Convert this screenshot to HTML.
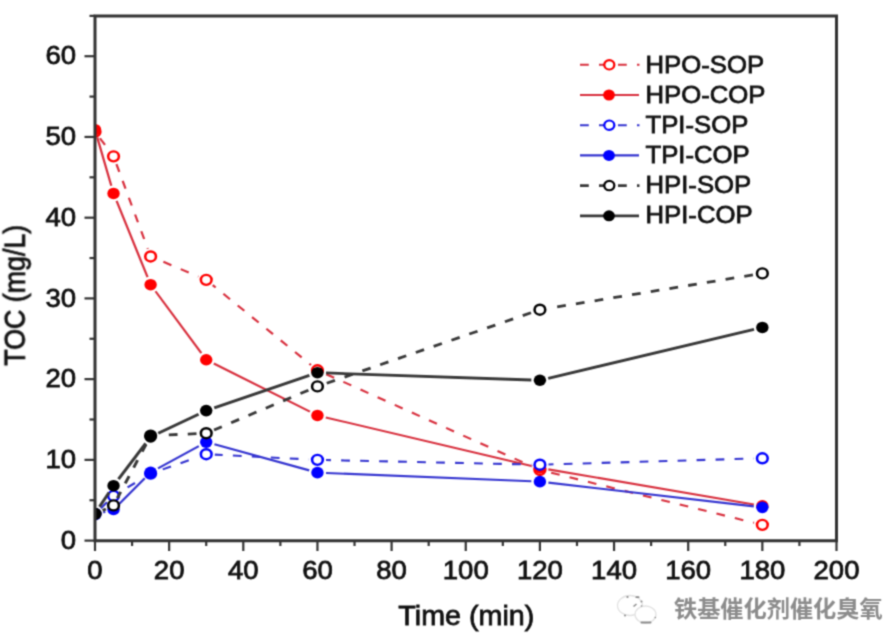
<!DOCTYPE html><html><head><meta charset="utf-8"><style>html,body{margin:0;padding:0;background:#fff;}svg{display:block}text{font-family:"Liberation Sans",Arial,sans-serif;fill:#111;stroke:#111;stroke-width:0.75px}</style></head><body>
<svg width="891" height="641" viewBox="0 0 891 641">
<rect width="891" height="641" fill="#fff"/>
<filter id="bl" x="0" y="0" width="891" height="641" filterUnits="userSpaceOnUse" color-interpolation-filters="sRGB"><feConvolveMatrix order="3" kernelMatrix="0.0400 0.1200 0.0400 0.1200 0.3600 0.1200 0.0400 0.1200 0.0400"/></filter>
<g filter="url(#bl)">
<defs><clipPath id="c"><rect x="88.785" y="15.8" width="692.991" height="524.7"/></clipPath></defs>
<g transform="scale(1.07 1)"><g clip-path="url(#c)">
<line x1="93.39" y1="138.25" x2="101.51" y2="149.78" stroke="#d8303e" stroke-width="2.1" stroke-dasharray="8.2 9.55" stroke-dashoffset="0.00"/>
<line x1="108.73" y1="163.89" x2="138.14" y2="248.87" stroke="#d8303e" stroke-width="2.1" stroke-dasharray="8.2 9.55" stroke-dashoffset="17.45"/>
<line x1="148.05" y1="259.72" x2="185.44" y2="276.56" stroke="#d8303e" stroke-width="2.1" stroke-dasharray="8.2 9.55" stroke-dashoffset="12.65"/>
<line x1="198.77" y1="285.09" x2="290.65" y2="365.01" stroke="#d8303e" stroke-width="2.1" stroke-dasharray="8.2 9.55" stroke-dashoffset="4.50"/>
<line x1="303.90" y1="373.72" x2="497.37" y2="466.50" stroke="#d8303e" stroke-width="2.1" stroke-dasharray="8.2 9.55" stroke-dashoffset="16.65"/>
<line x1="512.31" y1="472.00" x2="704.74" y2="522.82" stroke="#d8303e" stroke-width="2.1" stroke-dasharray="8.2 9.55" stroke-dashoffset="14.85"/>
<circle cx="88.79" cy="131.70" r="5.0" fill="#fff" stroke="#f00" stroke-width="2.4"/>
<circle cx="106.11" cy="156.33" r="5.0" fill="#fff" stroke="#f00" stroke-width="2.4"/>
<circle cx="140.76" cy="256.43" r="5.0" fill="#fff" stroke="#f00" stroke-width="2.4"/>
<circle cx="192.73" cy="279.84" r="5.0" fill="#fff" stroke="#f00" stroke-width="2.4"/>
<circle cx="296.68" cy="370.26" r="5.0" fill="#fff" stroke="#f00" stroke-width="2.4"/>
<circle cx="504.58" cy="469.96" r="5.0" fill="#fff" stroke="#f00" stroke-width="2.4"/>
<circle cx="712.48" cy="524.86" r="5.0" fill="#fff" stroke="#f00" stroke-width="2.4"/>
<line x1="90.88" y1="137.40" x2="104.01" y2="185.74" stroke="#d8303e" stroke-width="2.1"/>
<line x1="108.95" y1="200.94" x2="137.92" y2="277.21" stroke="#d8303e" stroke-width="2.1"/>
<line x1="145.31" y1="291.26" x2="188.18" y2="353.19" stroke="#d8303e" stroke-width="2.1"/>
<line x1="199.79" y1="363.54" x2="289.63" y2="411.69" stroke="#d8303e" stroke-width="2.1"/>
<line x1="304.44" y1="417.43" x2="496.82" y2="465.99" stroke="#d8303e" stroke-width="2.1"/>
<line x1="512.45" y1="469.38" x2="704.61" y2="504.45" stroke="#d8303e" stroke-width="2.1"/>
<circle cx="88.79" cy="129.68" r="5.8" fill="#f00"/>
<circle cx="106.11" cy="193.46" r="5.8" fill="#f00"/>
<circle cx="140.76" cy="284.69" r="5.8" fill="#f00"/>
<circle cx="192.73" cy="359.76" r="5.8" fill="#f00"/>
<circle cx="296.68" cy="415.47" r="5.8" fill="#f00"/>
<circle cx="504.58" cy="467.94" r="5.8" fill="#f00"/>
<circle cx="712.48" cy="505.89" r="5.8" fill="#f00"/>
<line x1="94.32" y1="508.18" x2="100.58" y2="501.65" stroke="#3434d0" stroke-width="2.1" stroke-dasharray="8.2 9.55" stroke-dashoffset="0.00"/>
<line x1="112.84" y1="491.55" x2="134.03" y2="477.92" stroke="#3434d0" stroke-width="2.1" stroke-dasharray="8.2 9.55" stroke-dashoffset="10.15"/>
<line x1="148.26" y1="470.80" x2="185.24" y2="457.01" stroke="#3434d0" stroke-width="2.1" stroke-dasharray="8.2 9.55" stroke-dashoffset="13.65"/>
<line x1="200.72" y1="454.65" x2="288.69" y2="459.44" stroke="#3434d0" stroke-width="2.1" stroke-dasharray="8.2 9.55" stroke-dashoffset="0.80"/>
<line x1="304.68" y1="460.06" x2="496.58" y2="464.53" stroke="#3434d0" stroke-width="2.1" stroke-dasharray="8.2 9.55" stroke-dashoffset="3.60"/>
<line x1="512.58" y1="464.47" x2="704.48" y2="458.50" stroke="#3434d0" stroke-width="2.1" stroke-dasharray="8.2 9.55" stroke-dashoffset="3.50"/>
<circle cx="88.79" cy="513.96" r="5.0" fill="#fff" stroke="#00f" stroke-width="2.4"/>
<circle cx="106.11" cy="495.88" r="5.0" fill="#fff" stroke="#00f" stroke-width="2.4"/>
<circle cx="140.76" cy="473.59" r="5.0" fill="#fff" stroke="#00f" stroke-width="2.4"/>
<circle cx="192.73" cy="454.22" r="5.0" fill="#fff" stroke="#00f" stroke-width="2.4"/>
<circle cx="296.68" cy="459.87" r="5.0" fill="#fff" stroke="#00f" stroke-width="2.4"/>
<circle cx="504.58" cy="464.71" r="5.0" fill="#fff" stroke="#00f" stroke-width="2.4"/>
<circle cx="712.48" cy="458.26" r="5.0" fill="#fff" stroke="#00f" stroke-width="2.4"/>
<line x1="96.44" y1="512.45" x2="98.45" y2="511.84" stroke="#3434d0" stroke-width="2.1"/>
<line x1="111.57" y1="503.67" x2="135.30" y2="478.23" stroke="#3434d0" stroke-width="2.1"/>
<line x1="147.67" y1="468.36" x2="185.82" y2="446.14" stroke="#3434d0" stroke-width="2.1"/>
<line x1="200.41" y1="444.36" x2="289.01" y2="470.37" stroke="#3434d0" stroke-width="2.1"/>
<line x1="304.67" y1="472.97" x2="496.59" y2="481.32" stroke="#3434d0" stroke-width="2.1"/>
<line x1="512.52" y1="482.65" x2="704.54" y2="506.36" stroke="#3434d0" stroke-width="2.1"/>
<circle cx="88.79" cy="514.77" r="5.8" fill="#00f"/>
<circle cx="106.11" cy="509.52" r="5.8" fill="#00f"/>
<circle cx="140.76" cy="472.38" r="5.8" fill="#00f"/>
<circle cx="192.73" cy="442.11" r="5.8" fill="#00f"/>
<circle cx="296.68" cy="472.63" r="5.8" fill="#00f"/>
<circle cx="504.58" cy="481.67" r="5.8" fill="#00f"/>
<circle cx="712.48" cy="507.34" r="5.8" fill="#00f"/>
<line x1="95.96" y1="510.42" x2="98.94" y2="508.94" stroke="#383838" stroke-width="2.8" stroke-dasharray="8.2 9.55" stroke-dashoffset="0.00"/>
<line x1="109.67" y1="498.24" x2="137.20" y2="442.82" stroke="#383838" stroke-width="2.8" stroke-dasharray="8.2 9.55" stroke-dashoffset="1.20"/>
<line x1="148.75" y1="435.28" x2="184.74" y2="433.60" stroke="#383838" stroke-width="2.8" stroke-dasharray="8.2 9.55" stroke-dashoffset="8.75"/>
<line x1="200.03" y1="429.94" x2="289.39" y2="389.69" stroke="#383838" stroke-width="2.8" stroke-dasharray="8.2 9.55" stroke-dashoffset="0.20"/>
<line x1="304.19" y1="383.64" x2="497.07" y2="312.48" stroke="#383838" stroke-width="2.8" stroke-dasharray="8.2 9.55" stroke-dashoffset="16.50"/>
<line x1="512.46" y1="308.34" x2="704.60" y2="274.76" stroke="#383838" stroke-width="2.8" stroke-dasharray="8.2 9.55" stroke-dashoffset="9.35"/>
<circle cx="88.79" cy="513.96" r="5.0" fill="#fff" stroke="#000" stroke-width="2.4"/>
<circle cx="106.11" cy="505.40" r="5.0" fill="#fff" stroke="#000" stroke-width="2.4"/>
<circle cx="140.76" cy="435.65" r="5.0" fill="#fff" stroke="#000" stroke-width="2.4"/>
<circle cx="192.73" cy="433.23" r="5.0" fill="#fff" stroke="#000" stroke-width="2.4"/>
<circle cx="296.68" cy="386.41" r="5.0" fill="#fff" stroke="#000" stroke-width="2.4"/>
<circle cx="504.58" cy="309.71" r="5.0" fill="#fff" stroke="#000" stroke-width="2.4"/>
<circle cx="712.48" cy="273.38" r="5.0" fill="#fff" stroke="#000" stroke-width="2.4"/>
<line x1="93.00" y1="506.84" x2="101.89" y2="492.50" stroke="#383838" stroke-width="2.8"/>
<line x1="110.74" y1="479.18" x2="136.13" y2="443.39" stroke="#383838" stroke-width="2.8"/>
<line x1="147.90" y1="433.26" x2="185.59" y2="414.23" stroke="#383838" stroke-width="2.8"/>
<line x1="200.25" y1="407.88" x2="289.17" y2="375.42" stroke="#383838" stroke-width="2.8"/>
<line x1="304.68" y1="372.97" x2="496.58" y2="379.98" stroke="#383838" stroke-width="2.8"/>
<line x1="512.33" y1="378.30" x2="704.72" y2="329.44" stroke="#383838" stroke-width="2.8"/>
<circle cx="88.79" cy="513.64" r="5.8" fill="#000"/>
<circle cx="106.11" cy="485.70" r="5.8" fill="#000"/>
<circle cx="140.76" cy="436.86" r="5.8" fill="#000"/>
<circle cx="192.73" cy="410.62" r="5.8" fill="#000"/>
<circle cx="296.68" cy="372.68" r="5.8" fill="#000"/>
<circle cx="504.58" cy="380.27" r="5.8" fill="#000"/>
<circle cx="712.48" cy="327.47" r="5.8" fill="#000"/>
</g></g>
<path d="M95.0 15.9H836.5V540.8H95.0Z" fill="none" stroke="#333" stroke-width="3"/>
<line x1="95.00" y1="540.5" x2="95.00" y2="551.0" stroke="#333" stroke-width="2.2"/>
<text transform="translate(95.00 578.6) scale(1.08 1)" font-size="25.5" text-anchor="middle">0</text>
<line x1="132.07" y1="540.5" x2="132.07" y2="546.0" stroke="#333" stroke-width="2.2"/>
<line x1="169.15" y1="540.5" x2="169.15" y2="551.0" stroke="#333" stroke-width="2.2"/>
<text transform="translate(169.15 578.6) scale(1.08 1)" font-size="25.5" text-anchor="middle">20</text>
<line x1="206.22" y1="540.5" x2="206.22" y2="546.0" stroke="#333" stroke-width="2.2"/>
<line x1="243.30" y1="540.5" x2="243.30" y2="551.0" stroke="#333" stroke-width="2.2"/>
<text transform="translate(243.30 578.6) scale(1.08 1)" font-size="25.5" text-anchor="middle">40</text>
<line x1="280.38" y1="540.5" x2="280.38" y2="546.0" stroke="#333" stroke-width="2.2"/>
<line x1="317.45" y1="540.5" x2="317.45" y2="551.0" stroke="#333" stroke-width="2.2"/>
<text transform="translate(317.45 578.6) scale(1.08 1)" font-size="25.5" text-anchor="middle">60</text>
<line x1="354.52" y1="540.5" x2="354.52" y2="546.0" stroke="#333" stroke-width="2.2"/>
<line x1="391.60" y1="540.5" x2="391.60" y2="551.0" stroke="#333" stroke-width="2.2"/>
<text transform="translate(391.60 578.6) scale(1.08 1)" font-size="25.5" text-anchor="middle">80</text>
<line x1="428.68" y1="540.5" x2="428.68" y2="546.0" stroke="#333" stroke-width="2.2"/>
<line x1="465.75" y1="540.5" x2="465.75" y2="551.0" stroke="#333" stroke-width="2.2"/>
<text transform="translate(465.75 578.6) scale(1.08 1)" font-size="25.5" text-anchor="middle">100</text>
<line x1="502.82" y1="540.5" x2="502.82" y2="546.0" stroke="#333" stroke-width="2.2"/>
<line x1="539.90" y1="540.5" x2="539.90" y2="551.0" stroke="#333" stroke-width="2.2"/>
<text transform="translate(539.90 578.6) scale(1.08 1)" font-size="25.5" text-anchor="middle">120</text>
<line x1="576.98" y1="540.5" x2="576.98" y2="546.0" stroke="#333" stroke-width="2.2"/>
<line x1="614.05" y1="540.5" x2="614.05" y2="551.0" stroke="#333" stroke-width="2.2"/>
<text transform="translate(614.05 578.6) scale(1.08 1)" font-size="25.5" text-anchor="middle">140</text>
<line x1="651.12" y1="540.5" x2="651.12" y2="546.0" stroke="#333" stroke-width="2.2"/>
<line x1="688.20" y1="540.5" x2="688.20" y2="551.0" stroke="#333" stroke-width="2.2"/>
<text transform="translate(688.20 578.6) scale(1.08 1)" font-size="25.5" text-anchor="middle">160</text>
<line x1="725.27" y1="540.5" x2="725.27" y2="546.0" stroke="#333" stroke-width="2.2"/>
<line x1="762.35" y1="540.5" x2="762.35" y2="551.0" stroke="#333" stroke-width="2.2"/>
<text transform="translate(762.35 578.6) scale(1.08 1)" font-size="25.5" text-anchor="middle">180</text>
<line x1="799.42" y1="540.5" x2="799.42" y2="546.0" stroke="#333" stroke-width="2.2"/>
<line x1="836.50" y1="540.5" x2="836.50" y2="551.0" stroke="#333" stroke-width="2.2"/>
<text transform="translate(836.50 578.6) scale(1.08 1)" font-size="25.5" text-anchor="middle">200</text>
<line x1="95.0" y1="540.60" x2="84.5" y2="540.60" stroke="#333" stroke-width="2.2"/>
<text transform="translate(76 548.70) scale(1.08 1)" font-size="25.5" text-anchor="end">0</text>
<line x1="95.0" y1="500.24" x2="89.5" y2="500.24" stroke="#333" stroke-width="2.2"/>
<line x1="95.0" y1="459.87" x2="84.5" y2="459.87" stroke="#333" stroke-width="2.2"/>
<text transform="translate(76 467.97) scale(1.08 1)" font-size="25.5" text-anchor="end">10</text>
<line x1="95.0" y1="419.50" x2="89.5" y2="419.50" stroke="#333" stroke-width="2.2"/>
<line x1="95.0" y1="379.14" x2="84.5" y2="379.14" stroke="#333" stroke-width="2.2"/>
<text transform="translate(76 387.24) scale(1.08 1)" font-size="25.5" text-anchor="end">20</text>
<line x1="95.0" y1="338.77" x2="89.5" y2="338.77" stroke="#333" stroke-width="2.2"/>
<line x1="95.0" y1="298.41" x2="84.5" y2="298.41" stroke="#333" stroke-width="2.2"/>
<text transform="translate(76 306.51) scale(1.08 1)" font-size="25.5" text-anchor="end">30</text>
<line x1="95.0" y1="258.05" x2="89.5" y2="258.05" stroke="#333" stroke-width="2.2"/>
<line x1="95.0" y1="217.68" x2="84.5" y2="217.68" stroke="#333" stroke-width="2.2"/>
<text transform="translate(76 225.78) scale(1.08 1)" font-size="25.5" text-anchor="end">40</text>
<line x1="95.0" y1="177.31" x2="89.5" y2="177.31" stroke="#333" stroke-width="2.2"/>
<line x1="95.0" y1="136.95" x2="84.5" y2="136.95" stroke="#333" stroke-width="2.2"/>
<text transform="translate(76 145.05) scale(1.08 1)" font-size="25.5" text-anchor="end">50</text>
<line x1="95.0" y1="96.58" x2="89.5" y2="96.58" stroke="#333" stroke-width="2.2"/>
<line x1="95.0" y1="56.22" x2="84.5" y2="56.22" stroke="#333" stroke-width="2.2"/>
<text transform="translate(76 64.32) scale(1.08 1)" font-size="25.5" text-anchor="end">60</text>
<line x1="95.0" y1="15.86" x2="89.5" y2="15.86" stroke="#333" stroke-width="2.2"/>
<text transform="translate(466.3 624.6) scale(1.07 1)" font-size="26.8" text-anchor="middle">Time (min)</text>
<text transform="translate(24.5 295.3) scale(1.07 1) rotate(-90)" font-size="26.8" text-anchor="middle">TOC (mg/L)</text>
<g transform="translate(0 64.8) scale(1.07 1)">
<line x1="542.06" y1="0" x2="597.66" y2="0" stroke="#d8303e" stroke-width="2.1" stroke-dasharray="8.2 9.55"/>
<circle cx="569.44" cy="0" r="4.7" fill="#fff" stroke="#f00" stroke-width="2.1"/>
</g>
<text transform="translate(645.5 72.7) scale(1.08 1)" font-size="23.8">HPO-SOP</text>
<g transform="translate(0 95.0) scale(1.07 1)">
<line x1="542.06" y1="0" x2="597.20" y2="0" stroke="#d8303e" stroke-width="2.1"/>
<circle cx="569.16" cy="0" r="5.5" fill="#f00"/>
</g>
<text transform="translate(645.5 102.7) scale(1.08 1)" font-size="23.8">HPO-COP</text>
<g transform="translate(0 125.19999999999999) scale(1.07 1)">
<line x1="542.06" y1="0" x2="597.66" y2="0" stroke="#3434d0" stroke-width="2.1" stroke-dasharray="8.2 9.55"/>
<circle cx="569.44" cy="0" r="4.7" fill="#fff" stroke="#00f" stroke-width="2.1"/>
</g>
<text transform="translate(645.5 132.7) scale(1.08 1)" font-size="23.8">TPI-SOP</text>
<g transform="translate(0 155.39999999999998) scale(1.07 1)">
<line x1="542.06" y1="0" x2="597.20" y2="0" stroke="#3434d0" stroke-width="2.1"/>
<circle cx="569.16" cy="0" r="5.5" fill="#00f"/>
</g>
<text transform="translate(645.5 162.7) scale(1.08 1)" font-size="23.8">TPI-COP</text>
<g transform="translate(0 185.6) scale(1.07 1)">
<line x1="542.06" y1="0" x2="597.66" y2="0" stroke="#383838" stroke-width="2.8" stroke-dasharray="8.2 9.55"/>
<circle cx="569.44" cy="0" r="4.7" fill="#fff" stroke="#000" stroke-width="2.1"/>
</g>
<text transform="translate(645.5 192.7) scale(1.08 1)" font-size="23.8">HPI-SOP</text>
<g transform="translate(0 215.8) scale(1.07 1)">
<line x1="542.06" y1="0" x2="597.20" y2="0" stroke="#383838" stroke-width="2.8"/>
<circle cx="569.16" cy="0" r="5.5" fill="#000"/>
</g>
<text transform="translate(645.5 222.7) scale(1.08 1)" font-size="23.8">HPI-COP</text>
<g fill="none" stroke="#e2e2e2" stroke-width="1.3"><ellipse cx="630" cy="605.5" rx="12.5" ry="10"/><ellipse cx="645.5" cy="614.5" rx="10.5" ry="8.5" fill="#fff"/></g>
<g fill="#8a8a8a"><circle cx="627.5" cy="597" r="1.1"/><rect x="635.5" y="596.3" width="4" height="1.8" rx="0.9"/><circle cx="641.5" cy="601.5" r="1"/><path d="M633.5 606.5l3-2.5" stroke="#8a8a8a" stroke-width="1.5"/><circle cx="641.5" cy="606" r="0.8"/><circle cx="625" cy="615.5" r="1"/><rect x="640.5" y="621.6" width="11" height="1.8" rx="0.9"/><circle cx="655.3" cy="617.5" r="0.8"/></g>
<text x="674" y="616.6" font-size="23.2" font-weight="bold" style="font-family:'Liberation Sans','Noto Sans CJK SC',sans-serif;fill:#8c8c8c;stroke:none">铁基催化剂催化臭氧</text>
</g>
</svg></body></html>
